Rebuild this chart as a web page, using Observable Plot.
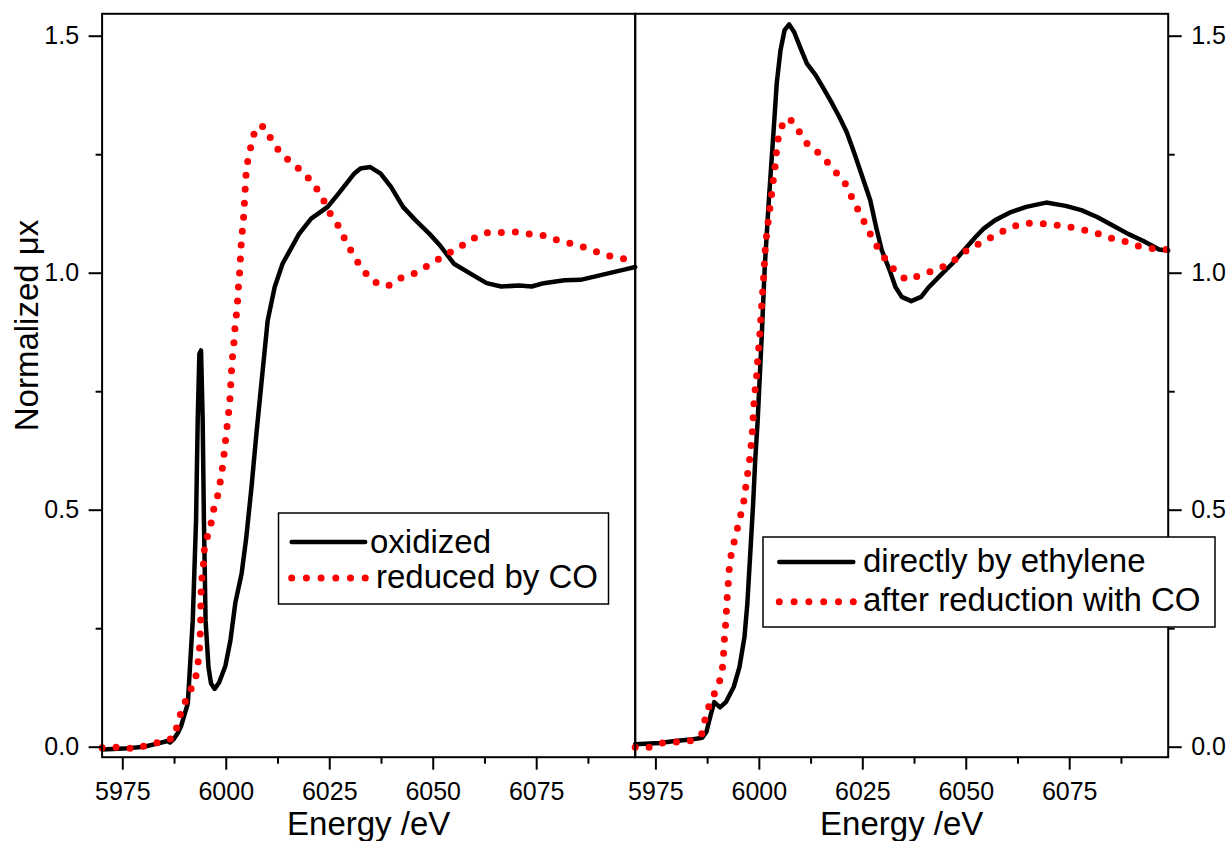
<!DOCTYPE html>
<html>
<head>
<meta charset="utf-8">
<script src="https://cdn.jsdelivr.net/npm/d3@7"></script>
<script src="https://cdn.jsdelivr.net/npm/@observablehq/plot@0.6"></script>
<style>
  html, body { margin: 0; padding: 0; background: #fff; }
  #chart { position: relative; width: 1230px; height: 841px; overflow: hidden; font-family: "Liberation Sans", Arial, sans-serif; }
  #chart svg { position: absolute; left: 0; top: 0; }
</style>
</head>
<body>
<div id="chart"></div>
<script>
// ---- Data (energy in eV, normalized absorption) ----
const oxidized = [
  [5970,-0.005],[5975.2,-0.003],[5980.1,0.001],[5983.1,0.007],[5985.8,0.013],[5986.4,0.010],[5987.2,0.016],
  [5988.3,0.030],[5989.1,0.045],[5990.7,0.092],[5991.9,0.267],[5992.7,0.479],[5993.1,0.690],[5993.5,0.830],
  [5993.9,0.837],[5994.3,0.690],[5994.6,0.479],[5995.0,0.267],[5995.7,0.169],[5996.3,0.135],[5997.2,0.123],
  [5998.3,0.137],[5999.8,0.172],[6001.0,0.225],[6002.2,0.305],[6003.7,0.366],[6004.8,0.440],[6006.1,0.549],
  [6007.2,0.654],[6008.4,0.760],[6010.0,0.900],[6011.7,0.971],[6013.6,1.020],[6017.6,1.083],[6020.5,1.115],
  [6024.5,1.140],[6027.4,1.171],[6030.9,1.210],[6032.4,1.221],[6034.8,1.224],[6037.3,1.210],[6039.8,1.182],
  [6042.7,1.140],[6045.7,1.112],[6049.1,1.083],[6051.6,1.059],[6055.0,1.020],[6059.0,0.999],[6062.9,0.979],
  [6066.4,0.972],[6070.8,0.974],[6073.8,0.972],[6076.7,0.979],[6081.7,0.985],[6085.6,0.986],[6091.5,0.998],
  [6096.4,1.008],[6098.8,1.013]
];
const reducedByCO = [
  [5970,-0.001],[5974.7,0.000],[5978.1,-0.004],[5981.6,0.007],[5985.0,0.012],[5987.5,0.021],[5988.3,0.053],
  [5989.5,0.084],[5990.9,0.112],[5992.5,0.142],[5993.1,0.172],[5993.5,0.204],[5993.7,0.236],[5993.8,0.264],
  [5993.85,0.294],[5993.9,0.324],[5994.1,0.355],[5994.5,0.387],[5994.7,0.417],[5995.5,0.447],[5996.5,0.478],
  [5997.1,0.509],[5998.2,0.538],[5998.7,0.570],[5999.3,0.602],[5999.6,0.631],[6000.0,0.661],[6000.4,0.693],
  [6000.8,0.723],[6001.0,0.753],[6001.2,0.784],[6001.4,0.815],[6001.8,0.846],[6002.0,0.876],[6002.4,0.908],
  [6002.7,0.937],[6002.9,0.967],[6003.2,0.998],[6003.4,1.029],[6003.6,1.059],[6003.9,1.091],[6004.2,1.120],
  [6004.4,1.150],[6004.6,1.182],[6004.8,1.212],[6005.3,1.244],[6006.1,1.273],[6007.0,1.304],[6008.4,1.312],
  [6009.7,1.304],[6011.3,1.273],[6014.2,1.245],[6017.6,1.220],[6020.7,1.193],[6023.1,1.162],[6024.7,1.131],
  [6027.0,1.101],[6028.7,1.071],[6030.4,1.043],[6032.5,1.013],[6035.3,0.983],[6038.9,0.972],[6042.4,0.991],
  [6045.9,1.001],[6049.3,1.019],[6052.9,1.038],[6056.3,1.055],[6059.8,1.074],[6063.2,1.086],[6066.9,1.086],
  [6070.3,1.087],[6073.8,1.082],[6077.3,1.079],[6080.8,1.067],[6084.2,1.061],[6087.8,1.051],[6091.3,1.039],
  [6094.8,1.032],[6098.8,1.027]
];
const directlyByEthylene = [
  [5970,0.006],[5975.9,0.009],[5979.6,0.013],[5983.4,0.016],[5986.2,0.020],[5987.2,0.032],[5988.3,0.070],
  [5989.1,0.095],[5990.5,0.084],[5991.9,0.095],[5993.8,0.127],[5995.2,0.169],[5996.4,0.232],[5997.1,0.303],
  [5997.8,0.408],[5998.5,0.514],[5999.0,0.605],[5999.6,0.690],[6000.6,0.872],[6001.3,1.013],[6002.3,1.154],
  [6003.4,1.295],[6004.2,1.400],[6005.1,1.470],[6006.1,1.513],[6007.2,1.525],[6008.4,1.509],[6009.8,1.478],
  [6011.5,1.442],[6013.6,1.418],[6015.5,1.390],[6017.4,1.361],[6019.3,1.330],[6021.1,1.298],[6023.0,1.252],
  [6024.9,1.203],[6026.8,1.154],[6028.2,1.098],[6029.6,1.048],[6031.5,1.006],[6032.9,0.971],[6034.4,0.950],
  [6036.7,0.941],[6039.1,0.950],[6041.0,0.971],[6043.8,0.996],[6046.6,1.020],[6049.4,1.048],[6052.3,1.077],
  [6054.2,1.094],[6057.0,1.112],[6060.8,1.129],[6064.5,1.140],[6069.3,1.149],[6074.0,1.142],[6077.8,1.133],
  [6081.5,1.119],[6085.3,1.101],[6089.1,1.083],[6092.8,1.068],[6096.6,1.050],[6098.8,1.048]
];
const afterReductionWithCO = [
  [5970,0.000],[5973,-0.001],[5976.5,0.009],[5980.1,0.011],[5983.6,0.014],[5986,0.025],[5986.7,0.053],
  [5987.7,0.084],[5989.1,0.112],[5990.6,0.144],[5991.2,0.174],[5991.4,0.204],[5991.6,0.234],[5991.9,0.264],
  [5992.1,0.296],[5992.3,0.327],[5992.6,0.357],[5992.8,0.388],[5993.5,0.419],[5994.4,0.450],[5995.2,0.480],
  [5996.1,0.510],[5996.6,0.542],[5997.1,0.573],[5997.6,0.604],[5998.0,0.635],[5998.3,0.665],[5998.7,0.725],
  [5999.0,0.756],[5999.4,0.788],[5999.6,0.818],[5999.9,0.848],[6000.2,0.880],[6000.4,0.911],[6000.6,0.939],
  [6000.9,0.971],[6001.1,1.001],[6001.3,1.031],[6001.5,1.062],[6001.9,1.092],[6002.3,1.122],[6002.8,1.154],
  [6003.2,1.186],[6003.7,1.216],[6004.0,1.245],[6004.4,1.277],[6005.1,1.307],[6007.2,1.328],[6009.4,1.302],
  [6011.7,1.271],[6015.0,1.249],[6017.9,1.219],[6020.7,1.190],[6022.3,1.161],[6024.0,1.131],[6025.9,1.099],
  [6027.6,1.069],[6029.5,1.041],[6032.0,1.012],[6035.5,0.986],[6039.1,0.996],[6042.7,1.008],[6046.1,1.020],
  [6049.6,1.045],[6053.0,1.062],[6056.5,1.078],[6060.0,1.094],[6063.4,1.105],[6066.9,1.106],[6070.4,1.103],
  [6074.0,1.099],[6077.6,1.093],[6081.0,1.086],[6084.5,1.075],[6088.1,1.068],[6091.7,1.057],[6095.2,1.052],
  [6098.8,1.050]
];
const majorX = [5975, 6000, 6025, 6050, 6075];
const minorX = [5987.5, 6012.5, 6037.5, 6062.5, 6087.5];
const majorY = [0, 0.5, 1.0, 1.5];
const minorY = [0.25, 0.75, 1.25];
const xDomain = [5970, 6098.8];
const yDomain = [-0.0211, 1.5473];
const xLabel = "Energy /eV";
const yLabel = "Normalized \u03BCx";
const leftLegend = ["oxidized", "reduced by CO"];
const rightLegend = ["directly by ethylene", "after reduction with CO"];

const FONT = '"Liberation Sans", Arial, sans-serif';
const TICK_FONT = 25;
const toRows = arr => arr.map(([E, mu]) => ({E, mu}));

function panel({solid, dotted, marginLeft, marginRight, yAnchor, showYLabel}) {
  const marks = [
    Plot.line(toRows(solid), {x: "E", y: "mu", stroke: "black", strokeWidth: 4.5, strokeLinejoin: "round", strokeLinecap: "round"}),
    Plot.line(toRows(dotted), {x: "E", y: "mu", stroke: "#ff0000", strokeWidth: 7, strokeDasharray: "0 14", strokeLinecap: "round"}),
    Plot.frame({stroke: "black", strokeWidth: 2}),
    Plot.axisX({ticks: majorX, anchor: "bottom", tickSize: 13, tickPadding: 12, tickFormat: d3.format("d"), fontSize: TICK_FONT, strokeWidth: 2, label: null}),
    Plot.axisX({ticks: minorX, anchor: "bottom", tickSize: 7, tickFormat: () => "", strokeWidth: 2, label: null}),
    Plot.axisY({ticks: majorY, anchor: yAnchor, tickSize: 13, tickPadding: 10, tickFormat: d3.format(".1f"), fontSize: TICK_FONT, strokeWidth: 2, label: null}),
    Plot.axisY({ticks: minorY, anchor: yAnchor, tickSize: 6, tickFormat: () => "", strokeWidth: 2, label: null}),
    Plot.text([xLabel], {text: d => d, frameAnchor: "bottom", textAnchor: "middle", lineAnchor: "bottom", dy: 78, fontSize: 33, fill: "black"})
  ];
  if (showYLabel) {
    marks.push(Plot.text([yLabel], {text: d => d, frameAnchor: "left", textAnchor: "middle", rotate: -90, lineAnchor: "bottom", dx: -64.6, dy: -60, fontSize: 33, fill: "black"}));
  }
  const svg = Plot.plot({
    width: 1230,
    height: 841,
    marginLeft, marginRight,
    marginTop: 13.3,
    marginBottom: 84.3,
    x: {domain: xDomain},
    y: {domain: yDomain},
    style: {background: "transparent", fontFamily: FONT, fontSize: TICK_FONT + "px", color: "black", overflow: "visible"},
    marks
  });
  // make sure numeric tick labels use the intended size
  d3.select(svg).selectAll("text")
    .filter(function () { return /^-?[\d.]+$/.test(this.textContent.trim()); })
    .style("font-size", TICK_FONT + "px")
    .style("font-family", FONT);
  return svg;
}

const chart = document.getElementById("chart");
chart.appendChild(panel({solid: oxidized, dotted: reducedByCO, marginLeft: 101.6, marginRight: 1230 - 634.7, yAnchor: "left", showYLabel: true}));
chart.appendChild(panel({solid: directlyByEthylene, dotted: afterReductionWithCO, marginLeft: 634.7, marginRight: 1230 - 1167.7, yAnchor: "right", showYLabel: false}));

// ---- Legends (layout overlay) ----
const NS = "http://www.w3.org/2000/svg";
const lsvg = document.createElementNS(NS, "svg");
lsvg.setAttribute("width", 1230);
lsvg.setAttribute("height", 841);
lsvg.style.pointerEvents = "none";
function el(tag, attrs, parent) {
  const e = document.createElementNS(NS, tag);
  for (const k in attrs) e.setAttribute(k, attrs[k]);
  parent.appendChild(e);
  return e;
}
function legend(box, labels, sample, textX, rows, dotGap) {
  const g = el("g", {}, lsvg);
  el("rect", {x: box[0], y: box[1], width: box[2], height: box[3], fill: "white", stroke: "black", "stroke-width": 1.5}, g);
  el("line", {x1: sample[0], x2: sample[1], y1: rows[0][0], y2: rows[0][0], stroke: "black", "stroke-width": 4.5, "stroke-linecap": "round"}, g);
  el("line", {x1: sample[0], x2: sample[1] + 0.5, y1: rows[1][0], y2: rows[1][0], stroke: "#ff0000", "stroke-width": 7, "stroke-dasharray": `0 ${dotGap}`, "stroke-linecap": "round"}, g);
  labels.forEach((t, i) => {
    const tx = el("text", {x: textX[i], y: rows[i][1], "font-size": 33, "font-family": FONT, fill: "black"}, g);
    tx.textContent = t;
  });
}
legend([278.5, 513, 330, 91], leftLegend, [291.7, 365.2], [370, 376], [[542, 553], [578, 588]], 14.7);
legend([763, 537, 452, 90], rightLegend, [779.3, 853.3], [863, 863], [[562, 571.7], [601.7, 611]], 14.8);
chart.appendChild(lsvg);
</script>
</body>
</html>
